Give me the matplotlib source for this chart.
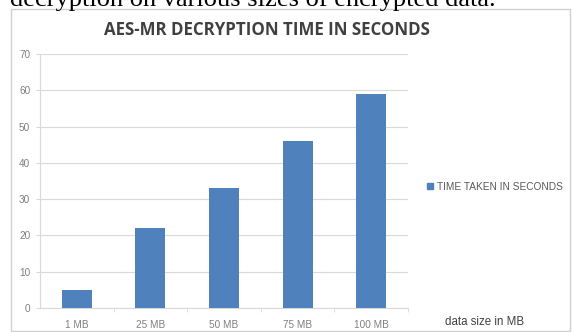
import matplotlib
matplotlib.use("Agg")
import matplotlib.pyplot as plt
from matplotlib.patches import Rectangle
from matplotlib.lines import Line2D

categories = ["1 MB", "25 MB", "50 MB", "75 MB", "100 MB"]
values = [5, 22, 33, 46, 59]
yticks = [0, 10, 20, 30, 40, 50, 60, 70]
series_name = "TIME TAKEN IN SECONDS"
title = "AES-MR DECRYPTION TIME IN SECONDS"
xlabel = "data size in MB"
caption = "decryption on various sizes of encrypted data."

W, H = 573, 332
fig = plt.figure(figsize=(W / 100, H / 100), dpi=100)
fig.patch.set_facecolor("white")

# chart border
fig.add_artist(Rectangle((11 / W, 1 - 331 / H), 559 / W, 322 / H, transform=fig.transFigure,
                         fill=False, edgecolor="#d0d0d0", linewidth=1.0))

# caption cut off at top
fig.text(10 / W, 1 - 6 / H, caption, fontsize=19, family="Liberation Serif",
         color="black", va="baseline", ha="left")

ax = fig.add_axes([40 / W, 1 - 308 / H, 368 / W, 254 / H])
x = range(len(categories))
ax.bar(x, values, width=0.41, color="#4F81BD", zorder=3)
ax.set_xlim(-0.5, len(categories) - 0.5)
ax.set_ylim(0, 70)
ax.set_yticks(yticks)
ax.set_yticklabels([str(v) for v in yticks])
ax.set_xticks(list(x))
ax.set_xticklabels(categories)
ax.set_xticks([i + 0.5 for i in range(len(categories))], minor=True)
ax.grid(axis="y", color="#d9d9d9", linewidth=0.8, zorder=0)
for s in ["top", "right"]:
    ax.spines[s].set_visible(False)
ax.spines["left"].set_color("#d9d9d9")
ax.spines["bottom"].set_color("#d9d9d9")
ax.tick_params(axis="y", length=3, color="#d9d9d9", labelsize=7.2, labelcolor="#7f7f7f", pad=4)
ax.tick_params(axis="x", which="major", length=0, labelsize=7.2, labelcolor="#7f7f7f", pad=9)
ax.tick_params(axis="x", which="minor", length=3, color="#d9d9d9")
for lab in ax.get_xticklabels() + ax.get_yticklabels():
    lab.set_family("Liberation Sans")

fig.text((100 + 433) / 2 / W, 1 - 30 / H, title, fontsize=12.2, fontweight="bold",
         family="Open Sans", color="#404040", ha="center", va="center")

handle = Line2D([], [], marker="s", linestyle="none", markersize=4, color="#4F81BD")
fig.legend([handle], [series_name], loc="center left", bbox_to_anchor=(425 / W, 1 - 187 / H),
           frameon=False, prop={"family": "Liberation Sans", "size": 7.3}, handletextpad=0.15,
           handlelength=1.0, labelcolor="#595959", borderpad=0, borderaxespad=0)

fig.text(445 / W, 1 - 322 / H, xlabel, fontsize=8.3, family="Liberation Sans",
         color="#404040", ha="left", va="center")

fig.savefig("out.png", dpi=100)
